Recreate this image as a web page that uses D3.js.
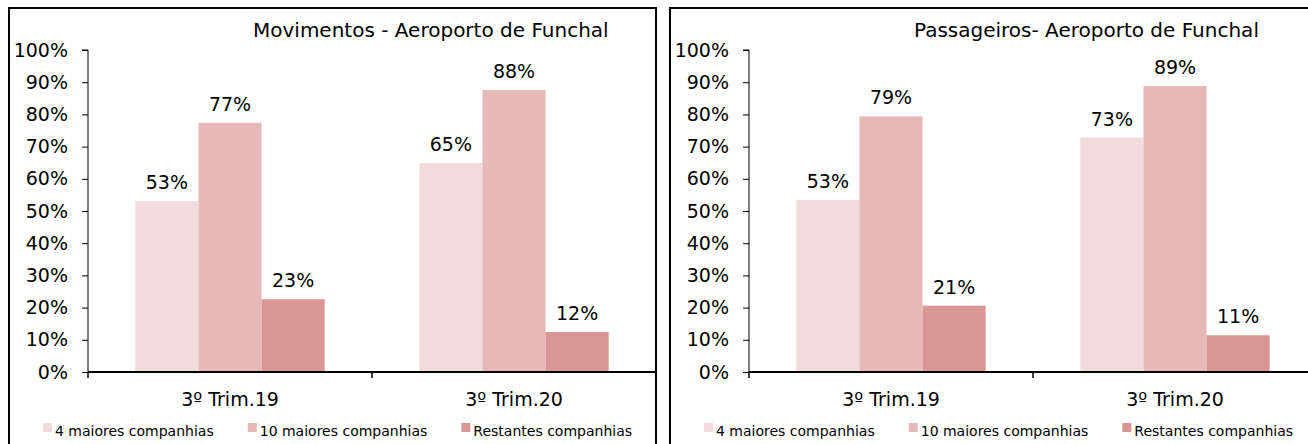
<!DOCTYPE html>
<html>
<head>
<meta charset="utf-8">
<script src="https://cdn.jsdelivr.net/npm/d3@7"></script>
<style>
  body { margin: 0; background: #fff; }
  svg { display: block; font-family: "DejaVu Sans", Tahoma, sans-serif; }
</style>
</head>
<body>
<svg id="chart" width="1308" height="444"></svg>
<script>
// Data
const categories = ['3º Trim.19', '3º Trim.20'];
const seriesNames = ['4 maiores companhias', '10 maiores companhias', 'Restantes companhias'];
const colors = ['#F2DCDB', '#E6B9B8', '#D99694'];
const yTicks = [0, 0.1, 0.2, 0.3, 0.4, 0.5, 0.6, 0.7, 0.8, 0.9, 1];

const movTitle = 'Movimentos - Aeroporto de Funchal';
const mov4 = [0.531, 0.649];
const mov10 = [0.774, 0.876];
const movRest = [0.226, 0.124];

const pasTitle = 'Passageiros- Aeroporto de Funchal';
const pas4 = [0.534, 0.728];
const pas10 = [0.794, 0.888];
const pasRest = [0.206, 0.114];

const svg = d3.select('#chart');
const fmt = d3.format('.0%');

function drawPanel(offsetX, title, s4, s10, sRest) {
  const g = svg.append('g').attr('transform', `translate(${offsetX},0)`);

  // Frame
  g.append('rect')
    .attr('x', 9).attr('y', 8)
    .attr('width', 647).attr('height', 460)
    .attr('fill', 'none').attr('stroke', '#000').attr('stroke-width', 2);

  // Title
  g.append('text')
    .attr('x', 253).attr('y', 37)
    .attr('font-size', 20)
    .text(title);

  const plot = g.append('g').attr('transform', 'translate(88,0)');
  const width = 568;

  const x = d3.scaleBand().domain(categories).range([0, width])
    .paddingInner(1 / 3).paddingOuter(1 / 6);
  const xSub = d3.scaleBand().domain(seriesNames).range([0, x.bandwidth()]);
  const y = d3.scaleLinear().domain([0, 1]).range([372, 50]);

  // Y axis
  const yAxis = plot.append('g')
    .call(d3.axisLeft(y).tickValues(yTicks).tickFormat(d3.format('.0%'))
      .tickSize(6).tickPadding(14));
  yAxis.select('.domain').attr('stroke', '#000').attr('d', `M-6,${y(1)}H0V${y(0)}`);
  yAxis.selectAll('.tick line').attr('stroke', '#000');
  yAxis.selectAll('.tick text')
    .attr('font-size', 19).attr('font-family', '"DejaVu Sans", Tahoma, sans-serif')
    .attr('fill', '#000');

  // Bars
  const rows = categories.map((c, i) => ({
    cat: c,
    vals: [s4[i], s10[i], sRest[i]].map((v, j) => ({ name: seriesNames[j], v }))
  }));

  const grp = plot.selectAll('g.grp')
    .data(rows)
    .join('g')
      .attr('class', 'grp')
      .attr('transform', d => `translate(${x(d.cat)},0)`);

  grp.selectAll('rect')
    .data(d => d.vals)
    .join('rect')
      .attr('x', d => xSub(d.name))
      .attr('y', d => y(d.v))
      .attr('width', xSub.bandwidth())
      .attr('height', d => y(0) - y(d.v))
      .attr('fill', (d, i) => colors[i]);

  grp.selectAll('text')
    .data(d => d.vals)
    .join('text')
      .attr('x', d => xSub(d.name) + xSub.bandwidth() / 2)
      .attr('y', d => y(d.v) - 12)
      .attr('text-anchor', 'middle')
      .attr('font-size', 19)
      .text(d => fmt(d.v));

  // X axis
  plot.append('line')
    .attr('x1', 0).attr('x2', width)
    .attr('y1', y(0)).attr('y2', y(0))
    .attr('stroke', '#000').attr('stroke-width', 2);
  const bounds = d3.range(categories.length + 1).map(i => i * x.step());
  plot.selectAll('line.xt')
    .data(bounds)
    .join('line')
      .attr('class', 'xt')
      .attr('x1', d => d).attr('x2', d => d)
      .attr('y1', y(0)).attr('y2', y(0) + 6)
      .attr('stroke', '#000').attr('stroke-width', 1.5);
  plot.selectAll('text.cat')
    .data(categories)
    .join('text')
      .attr('class', 'cat')
      .attr('x', d => x(d) + x.bandwidth() / 2)
      .attr('y', 406)
      .attr('text-anchor', 'middle')
      .attr('font-size', 19)
      .text(d => d);

  // Legend
  let lx = 43;
  seriesNames.forEach((name, i) => {
    g.append('rect')
      .attr('x', lx).attr('y', 423)
      .attr('width', 9).attr('height', 9)
      .attr('fill', colors[i]);
    const t = g.append('text')
      .attr('x', lx + 12).attr('y', 436)
      .attr('font-size', 14)
      .text(name);
    lx += 12 + t.node().getComputedTextLength() + 34;
  });
}

drawPanel(0, movTitle, mov4, mov10, movRest);
drawPanel(661, pasTitle, pas4, pas10, pasRest);
</script>
</body>
</html>
